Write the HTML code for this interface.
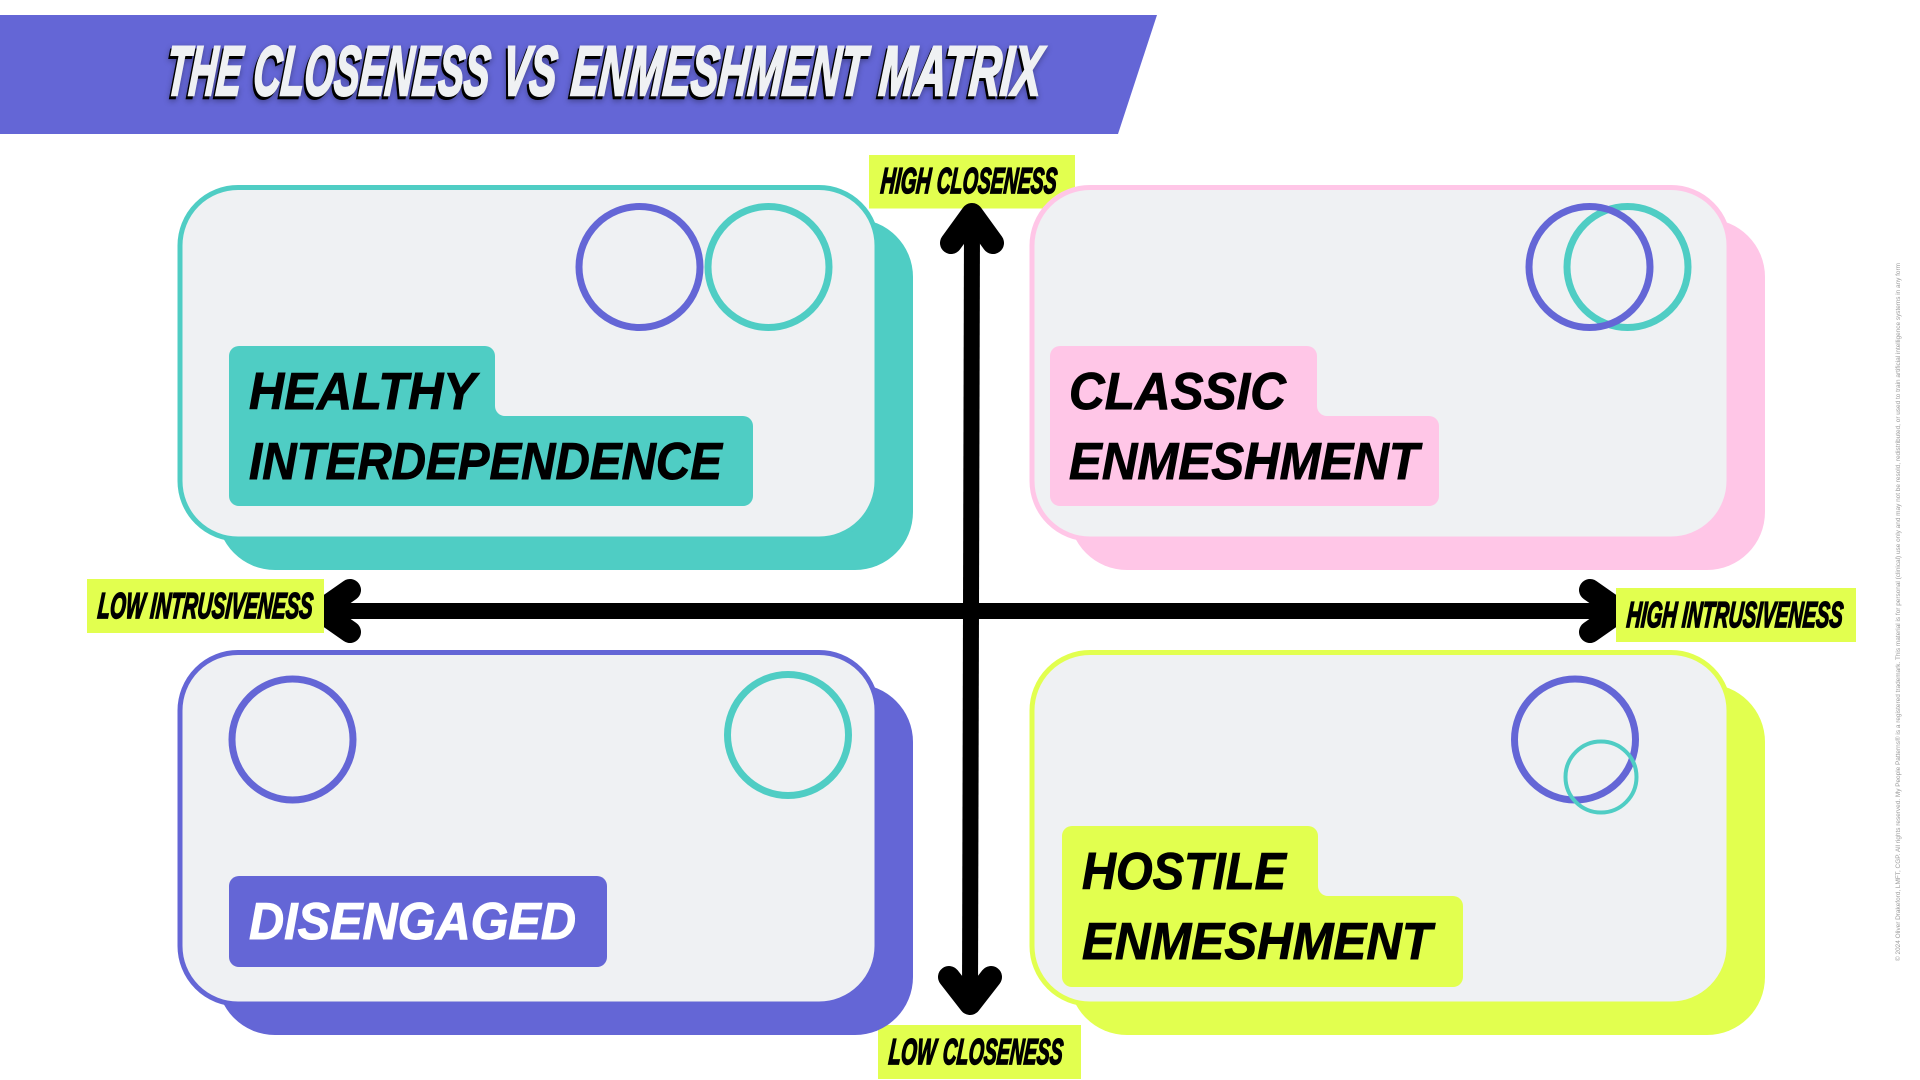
<!DOCTYPE html>
<html lang="en">
<head>
<meta charset="utf-8">
<title>The Closeness vs Enmeshment Matrix</title>
<style>
html,body{margin:0;padding:0;background:#fff;width:1920px;height:1080px;overflow:hidden}
svg{display:block}
text{font-family:"Liberation Sans",sans-serif;font-weight:700;font-style:italic}
.tag{font-size:36px;fill:#000;stroke:#000;stroke-width:1.7px}
.name{font-size:52px;fill:#000;stroke:#000;stroke-width:.9px}
.ttl{font-size:70px;fill:#eff1f3;stroke:#eff1f3;stroke-width:2.6px}
.card{fill:#eff1f3;stroke-width:5}
.ring{fill:none;stroke-width:7}
</style>
</head>
<body>
<svg width="1920" height="1080" viewBox="0 0 1920 1080" xmlns="http://www.w3.org/2000/svg">
<rect width="1920" height="1080" fill="#fff"/>

<!-- Banner -->
<polygon points="0,15 1157,15 1118,134 0,134" fill="#6466d6"/>
<g style="filter:drop-shadow(-2px 3px 0 #000) drop-shadow(0 2px 3px rgba(0,0,0,.3))">
<text class="ttl" transform="translate(165,95) skewX(-5)" textLength="75" lengthAdjust="spacingAndGlyphs">THE</text>
<text class="ttl" transform="translate(252,95) skewX(-5)" textLength="236" lengthAdjust="spacingAndGlyphs">CLOSENESS</text>
<text class="ttl" transform="translate(501,95) skewX(-5)" textLength="54" lengthAdjust="spacingAndGlyphs">VS</text>
<text class="ttl" transform="translate(570,95) skewX(-5)" textLength="294" lengthAdjust="spacingAndGlyphs">ENMESHMENT</text>
<text class="ttl" transform="translate(878,95) skewX(-5)" textLength="162" lengthAdjust="spacingAndGlyphs">MATRIX</text>
</g>

<!-- Axis labels (vertical) -->
<rect x="869" y="155" width="206" height="53.5" fill="#e2ff4f"/>
<text class="tag" transform="translate(880,193) skewX(-5)" textLength="50" lengthAdjust="spacingAndGlyphs">HIGH</text>
<text class="tag" transform="translate(936,193) skewX(-5)" textLength="120" lengthAdjust="spacingAndGlyphs">CLOSENESS</text>
<rect x="878" y="1025" width="203" height="54" fill="#e2ff4f"/>
<text class="tag" transform="translate(888,1064) skewX(-5)" textLength="47" lengthAdjust="spacingAndGlyphs">LOW</text>
<text class="tag" transform="translate(942,1064) skewX(-5)" textLength="120" lengthAdjust="spacingAndGlyphs">CLOSENESS</text>

<!-- Top-left card -->
<rect x="217" y="219" width="696" height="351" rx="58" fill="#4fcdc4"/>
<rect class="card" x="180" y="187.5" width="697" height="351.5" rx="58" stroke="#4fcdc4"/>
<circle class="ring" cx="639.5" cy="267" r="60.5" stroke="#6466d6"/>
<circle class="ring" cx="768.5" cy="267" r="60.5" stroke="#4fcdc4"/>
<path d="M239,346H485A10,10 0 0 1 495,356V406A10,10 0 0 0 505,416H743A10,10 0 0 1 753,426V496A10,10 0 0 1 743,506H239A10,10 0 0 1 229,496V356A10,10 0 0 1 239,346Z" fill="#4fcdc4"/>
<text class="name" x="249" y="409" textLength="227" lengthAdjust="spacingAndGlyphs">HEALTHY</text>
<text class="name" x="249" y="479" textLength="473" lengthAdjust="spacingAndGlyphs">INTERDEPENDENCE</text>

<!-- Top-right card -->
<rect x="1069" y="219" width="696" height="351" rx="58" fill="#ffc6e7"/>
<rect class="card" x="1032" y="187.5" width="697" height="351.5" rx="58" stroke="#ffc6e7"/>
<circle class="ring" cx="1627.5" cy="267" r="60.5" stroke="#4fcdc4"/>
<circle class="ring" cx="1589.5" cy="267" r="60.5" stroke="#6466d6"/>
<path d="M1060,346H1307A10,10 0 0 1 1317,356V406A10,10 0 0 0 1327,416H1429A10,10 0 0 1 1439,426V496A10,10 0 0 1 1429,506H1060A10,10 0 0 1 1050,496V356A10,10 0 0 1 1060,346Z" fill="#ffc6e7"/>
<text class="name" x="1069" y="409" textLength="217" lengthAdjust="spacingAndGlyphs">CLASSIC</text>
<text class="name" x="1069" y="479" textLength="350" lengthAdjust="spacingAndGlyphs">ENMESHMENT</text>

<!-- Bottom-left card -->
<rect x="217" y="684" width="696" height="351" rx="58" fill="#6466d6"/>
<rect class="card" x="180" y="652.5" width="697" height="351.5" rx="58" stroke="#6466d6"/>
<circle class="ring" cx="292.5" cy="739.5" r="60.5" stroke="#6466d6"/>
<circle class="ring" cx="788" cy="735" r="60.5" stroke="#4fcdc4"/>
<rect x="229" y="876" width="378" height="91" rx="10" fill="#6466d6"/>
<text class="name" x="249" y="939" textLength="327" lengthAdjust="spacingAndGlyphs" style="fill:#fff;stroke:#fff">DISENGAGED</text>

<!-- Bottom-right card -->
<rect x="1069" y="684" width="696" height="351" rx="58" fill="#e2ff4f"/>
<rect class="card" x="1032" y="652.5" width="697" height="351.5" rx="58" stroke="#e2ff4f"/>
<circle class="ring" cx="1575" cy="739.5" r="60.5" stroke="#6466d6"/>
<circle cx="1601" cy="777" r="35.5" fill="none" stroke="#4fcdc4" stroke-width="4"/>
<path d="M1072,826H1308A10,10 0 0 1 1318,836V886A10,10 0 0 0 1328,896H1453A10,10 0 0 1 1463,906V977A10,10 0 0 1 1453,987H1072A10,10 0 0 1 1062,977V836A10,10 0 0 1 1072,826Z" fill="#e2ff4f"/>
<text class="name" x="1082" y="889" textLength="204" lengthAdjust="spacingAndGlyphs">HOSTILE</text>
<text class="name" x="1082" y="959" textLength="350" lengthAdjust="spacingAndGlyphs">ENMESHMENT</text>

<!-- Axes -->
<g fill="none" stroke="#000" stroke-linecap="round" stroke-linejoin="round">
  <line x1="335" y1="611" x2="1605" y2="611" stroke-width="16" stroke-linecap="butt"/>
  <polyline points="350,590 320,611 350,632" stroke-width="22"/>
  <polyline points="1590,590 1620,611 1590,632" stroke-width="22"/>
  <line x1="972" y1="222" x2="970" y2="995" stroke-width="16" stroke-linecap="butt"/>
  <polyline points="951,243 972,214 993,243" stroke-width="22"/>
  <polyline points="949,977 970,1004 991,977" stroke-width="22"/>
</g>

<!-- Axis labels (horizontal) -->
<rect x="87" y="579" width="237" height="54" fill="#e2ff4f"/>
<text class="tag" transform="translate(97,618) skewX(-5)" textLength="215" lengthAdjust="spacingAndGlyphs">LOW INTRUSIVENESS</text>
<rect x="1616" y="588" width="240" height="54" fill="#e2ff4f"/>
<text class="tag" transform="translate(1626,627) skewX(-5)" textLength="216" lengthAdjust="spacingAndGlyphs">HIGH INTRUSIVENESS</text>

<!-- Copyright -->
<text transform="translate(1900,961) rotate(-90)" font-size="6" textLength="698" lengthAdjust="spacingAndGlyphs" style="font-weight:400;font-style:normal" fill="#9a9a9a">© 2024 Oliver Drakeford, LMFT, CGP. All rights reserved. My People Patterns® is a registered trademark. This material is for personal (clinical) use only and may not be resold, redistributed, or used to train artificial intelligence systems in any form</text>
</svg>
</body>
</html>
